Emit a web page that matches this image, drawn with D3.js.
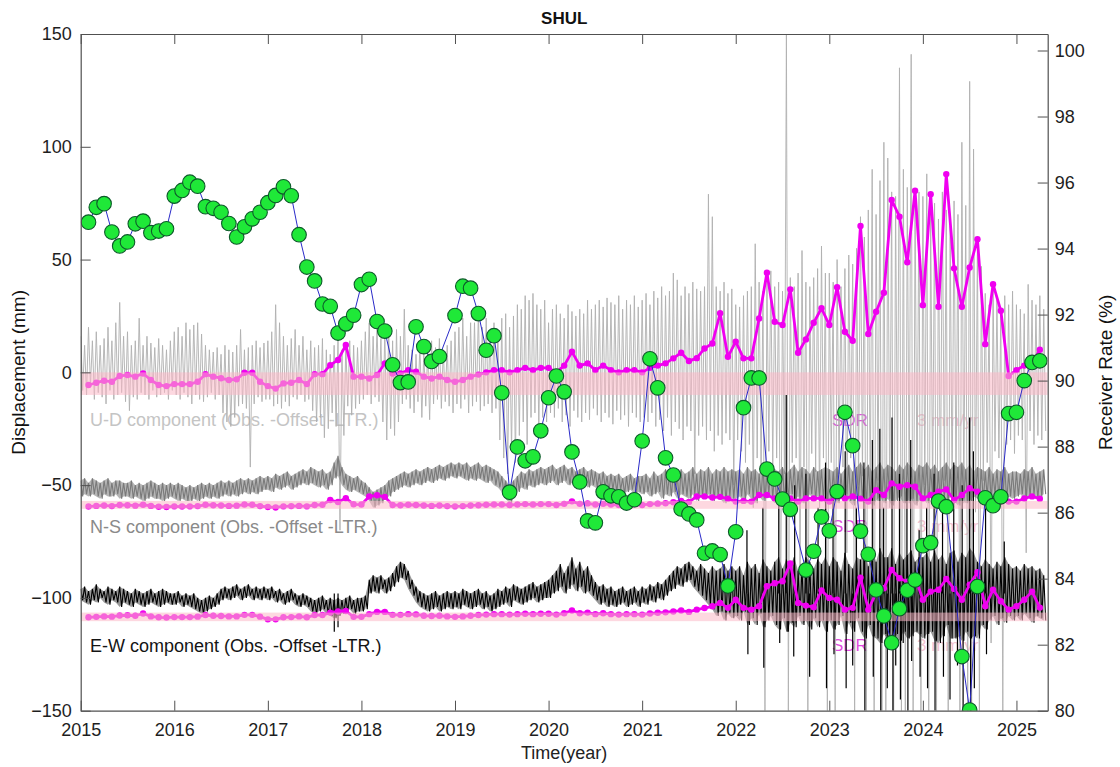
<!DOCTYPE html>
<html><head><meta charset="utf-8">
<script src="https://cdn.jsdelivr.net/npm/d3@7"></script>
<style>
body{margin:0;background:#fff;}
svg{display:block;font-family:"Liberation Sans",Arial,Helvetica,sans-serif;}
</style></head><body>
<svg id="chart" width="1120" height="767"></svg>
<script>
// ---- Station and axes ----
const stationName = "SHUL";
const yearTicks = [2015,2016,2017,2018,2019,2020,2021,2022,2023,2024,2025];
const dispTicks = [-150,-100,-50,0,50,100,150];
const rateTicks = [80,82,84,86,88,90,92,94,96,98,100];

// ---- Daily displacement envelopes, half-month samples from 2015.0 (mm) ----
const udHi = [16,12,20,14,18,12,15,20,14,22,31,16,18,12,14,24,12,16,13,11,15,12,10,14,
  18,20,16,22,19,21,22,17,12,10,9,11,8,12,10,9,12,19,10,11,12,14,11,13,
  14,18,30,22,16,12,15,19,12,16,10,14,11,12,15,10,8,12,15,10,12,14,12,11,
  14,18,22,16,20,15,18,20,14,19,16,28,12,10,8,12,9,10,14,11,15,10,12,14,
  18,20,24,16,22,22,27,20,24,19,22,18,24,26,20,25,30,28,34,32,35,30,28,32,
  22,28,30,26,24,30,27,25,28,26,32,28,30,32,29,33,31,30,34,28,32,30,34,29,
  32,35,30,36,33,38,34,36,44,41,34,38,35,40,37,36,38,79,69,38,36,40,35,37,
  30,29,34,36,38,57,40,36,42,45,38,40,36,150,42,38,44,54,40,38,42,46,56,44,
  44,40,50,38,46,52,48,55,69,60,72,90,70,85,102,95,80,78,135,90,82,141,75,80,
  78,88,70,75,68,80,72,65,76,70,102,74,129,99,60,47,35,30,38,32,28,34,30,36,
  30,28,26,39,32,30,34,28];
const udLo = [-8,-10,-6,-12,-9,-11,-14,-8,-12,-10,-9,-13,-17,-11,-12,-9,-10,-12,-8,-11,-10,-9,-12,-8,
  -10,-12,-9,-11,-14,-10,-12,-13,-11,-9,-12,-10,-18,-22,-24,-20,-15,-14,-16,-42,-14,-11,-13,-12,
  -12,-15,-14,-16,-13,-15,-11,-12,-10,-13,-12,-17,-22,-20,-29,-25,-18,-24,-70,-28,-15,-19,-16,-14,
  -12,-10,-14,-11,-13,-22,-30,-25,-28,-22,-14,-12,-16,-18,-13,-20,-15,-21,-14,-12,-16,-13,-15,-18,
  -14,-16,-12,-18,-15,-13,-17,-15,-14,-18,-16,-30,-38,-45,-35,-40,-28,-22,-32,-20,-18,-24,-20,-22,
  -18,-20,-16,-22,-19,-24,-17,-20,-22,-18,-21,-16,-19,-22,-18,-20,-23,-17,-21,-19,-24,-18,-20,-22,
  -20,-22,-18,-24,-21,-26,-20,-28,-22,-25,-30,-24,-26,-45,-28,-24,-30,-26,-35,-28,-32,-27,-30,-50,
  -30,-35,-40,-32,-60,-38,-45,-150,-35,-42,-38,-110,-45,-150,-40,-38,-90,-42,-150,-36,-44,-60,-38,-150,
  -40,-150,-45,-42,-80,-38,-150,-50,-46,-150,-55,-150,-48,-150,-150,-60,-150,-52,-150,-150,-58,-150,-54,-150,
  -50,-150,-56,-150,-60,-48,-150,-55,-52,-150,-58,-150,-150,-62,-150,-48,-40,-120,-35,-38,-150,-32,-30,-36,
  -28,-30,-80,-26,-32,-28,-30,-26];
const nsHi = [-48,-47,-49,-47,-48,-49,-48,-47,-49,-48,-48,-49,-49,-48,-50,-49,-50,-49,-48,-49,-50,-49,-50,-49,
  -50,-49,-50,-51,-50,-51,-50,-49,-50,-49,-50,-49,-48,-49,-48,-49,-48,-47,-48,-47,-48,-47,-46,-47,
  -46,-47,-45,-46,-45,-44,-46,-45,-44,-43,-44,-42,-43,-44,-43,-45,-44,-40,-37,-42,-45,-46,-47,-46,
  -48,-49,-51,-53,-52,-51,-50,-48,-47,-46,-45,-44,-45,-44,-43,-44,-43,-42,-43,-42,-41,-42,-41,-40,
  -41,-40,-41,-40,-42,-41,-40,-42,-41,-42,-43,-44,-46,-48,-50,-48,-46,-44,-45,-43,-44,-43,-42,-43,
  -42,-41,-43,-42,-41,-43,-42,-44,-43,-42,-44,-43,-44,-45,-44,-46,-45,-46,-45,-47,-46,-45,-47,-46,
  -46,-45,-47,-44,-46,-45,-43,-45,-44,-46,-43,-45,-44,-42,-45,-43,-44,-42,-45,-43,-44,-42,-44,-43,
  -44,-43,-45,-42,-44,-43,-45,-42,-44,-41,-43,-44,-42,-45,-43,-41,-44,-42,-43,-45,-42,-44,-43,-42,
  -43,-44,-42,-45,-43,-41,-44,-42,-40,-43,-41,-44,-42,-40,-43,-41,-42,-44,-41,-43,-40,-42,-44,-41,
  -42,-40,-43,-41,-44,-42,-40,-43,-41,-42,-40,-43,-41,-44,-42,-43,-44,-42,-45,-43,-44,-42,-45,-44,
  -44,-45,-43,-44,-42,-45,-44,-43];
const nsLo = [-55,-54,-55,-54,-55,-56,-54,-55,-55,-54,-56,-55,-55,-56,-55,-56,-57,-56,-55,-56,-56,-57,-56,-55,
  -56,-57,-56,-57,-57,-56,-57,-56,-55,-56,-55,-56,-55,-54,-55,-54,-55,-54,-53,-54,-53,-54,-53,-52,
  -52,-53,-51,-52,-51,-50,-52,-51,-50,-49,-50,-49,-50,-51,-50,-52,-50,-47,-46,-50,-52,-53,-52,-53,
  -54,-55,-57,-60,-59,-58,-56,-55,-53,-52,-51,-50,-51,-50,-49,-50,-49,-48,-49,-48,-47,-48,-47,-46,
  -47,-46,-47,-48,-47,-48,-47,-48,-49,-48,-50,-51,-53,-56,-58,-55,-53,-51,-52,-50,-51,-50,-49,-50,
  -49,-48,-50,-49,-48,-50,-49,-51,-50,-49,-51,-50,-51,-52,-51,-53,-52,-53,-52,-54,-53,-52,-54,-53,
  -54,-53,-55,-54,-53,-56,-54,-55,-53,-56,-54,-55,-56,-54,-57,-55,-56,-54,-57,-55,-56,-58,-55,-56,
  -56,-55,-57,-54,-56,-58,-55,-57,-54,-56,-58,-55,-57,-56,-54,-57,-55,-58,-56,-54,-57,-55,-56,-58,
  -57,-55,-58,-56,-54,-57,-59,-55,-57,-58,-56,-59,-57,-55,-58,-56,-59,-57,-55,-58,-57,-56,-59,-57,
  -56,-58,-55,-57,-59,-56,-58,-55,-57,-59,-56,-58,-57,-55,-56,-57,-55,-56,-54,-56,-55,-57,-55,-56,
  -55,-54,-56,-55,-54,-56,-55,-54];
const ewHi = [-96,-95,-97,-96,-94,-96,-97,-95,-96,-97,-95,-96,-97,-98,-96,-97,-98,-97,-96,-98,-97,-96,-97,-98,
  -98,-97,-99,-98,-99,-98,-100,-101,-100,-99,-100,-98,-96,-95,-96,-95,-94,-96,-95,-94,-96,-95,-96,-95,
  -96,-95,-97,-96,-98,-97,-96,-98,-99,-98,-99,-100,-101,-100,-99,-101,-100,-101,-100,-101,-100,-99,-101,-100,
  -100,-99,-92,-90,-91,-90,-92,-91,-89,-86,-84,-85,-88,-92,-95,-97,-98,-99,-98,-97,-99,-98,-97,-98,
  -97,-98,-96,-97,-98,-97,-96,-98,-97,-99,-98,-96,-97,-95,-96,-94,-95,-96,-95,-94,-93,-95,-94,-93,
  -92,-90,-88,-85,-89,-86,-82,-87,-84,-88,-86,-90,-93,-95,-94,-96,-95,-97,-96,-95,-97,-96,-95,-97,
  -95,-96,-94,-95,-93,-94,-92,-90,-88,-86,-87,-85,-84,-86,-88,-85,-87,-89,-86,-88,-87,-85,-88,-86,
  -88,-86,-90,-84,-87,-85,-89,-83,-86,-88,-84,-82,-87,-83,-85,-82,-88,-86,-82,-84,-87,-83,-85,-82,
  -86,-82,-84,-88,-80,-85,-87,-82,-83,-80,-86,-79,-84,-78,-82,-82,-78,-85,-80,-83,-81,-79,-84,-82,
  -82,-80,-84,-79,-83,-81,-85,-80,-79,-84,-80,-82,-78,-80,-84,-86,-83,-85,-87,-84,-86,-82,-85,-87,
  -86,-88,-85,-87,-86,-88,-87,-90];
const ewLo = [-101,-102,-103,-101,-102,-100,-102,-103,-101,-102,-104,-102,-103,-104,-102,-103,-104,-103,-102,-103,-104,-103,-102,-103,
  -103,-102,-104,-103,-104,-105,-106,-107,-106,-105,-104,-103,-101,-100,-101,-100,-99,-101,-100,-99,-101,-100,-101,-100,
  -101,-100,-102,-101,-103,-102,-101,-103,-104,-103,-104,-106,-107,-106,-105,-107,-108,-109,-108,-107,-106,-105,-107,-106,
  -106,-105,-98,-97,-98,-96,-98,-97,-95,-93,-91,-92,-96,-99,-102,-104,-105,-106,-105,-104,-106,-105,-104,-105,
  -104,-105,-103,-104,-105,-104,-103,-105,-104,-106,-105,-104,-103,-102,-104,-101,-102,-103,-102,-101,-100,-102,-101,-100,
  -100,-98,-97,-95,-98,-96,-94,-97,-95,-98,-97,-99,-101,-103,-102,-104,-103,-104,-103,-102,-104,-103,-102,-104,
  -102,-103,-101,-102,-100,-101,-99,-97,-96,-94,-95,-93,-92,-95,-97,-99,-101,-103,-105,-108,-106,-110,-107,-109,
  -108,-110,-106,-112,-109,-112,-107,-113,-110,-108,-112,-114,-109,-115,-111,-113,-108,-112,-110,-114,-109,-113,-110,-115,
  -110,-114,-112,-108,-116,-111,-115,-109,-115,-118,-112,-117,-118,-120,-116,-118,-120,-116,-119,-115,-118,-117,-115,-116,
  -118,-116,-115,-119,-120,-117,-112,-118,-118,-117,-119,-115,-118,-117,-118,-112,-114,-110,-108,-112,-109,-111,-108,-110,
  -108,-110,-107,-109,-111,-108,-109,-110];
// isolated E-W daily excursions [year, mm]
const ewSpikes = [[2017.71,-115],[2017.75,-113],
  [2022.12,-70],[2022.13,-125],[2022.29,-60],[2022.30,-131],[2022.46,-55],[2022.47,-120],[2022.54,-10],
  [2022.55,-115],[2022.63,-50],[2022.62,-126],[2022.75,-45],[2022.79,-135],[2022.88,-60],[2022.96,-40],
  [2022.97,-140],[2023.04,-50],[2023.05,-125],[2023.17,-35],[2023.18,-140],[2023.25,-130],[2023.29,-60],
  [2023.37,-40],[2023.38,-150],[2023.46,-30],[2023.47,-135],[2023.54,-25],[2023.55,-150],[2023.58,-60],
  [2023.62,-140],[2023.67,-20],[2023.68,-150],[2023.71,-130],[2023.75,-45],[2023.76,-145],[2023.79,-120],
  [2023.83,-50],[2023.84,-150],[2023.87,-30],[2023.88,-128],[2023.96,-70],[2023.97,-135],[2024.04,-60],
  [2024.05,-140],[2024.12,-45],[2024.13,-150],[2024.21,-55],[2024.22,-135],[2024.29,-145],[2024.33,-40],
  [2024.37,-130],[2024.42,-50],[2024.43,-150],[2024.50,-20],[2024.51,-150],[2024.54,-35],[2024.55,-140],
  [2024.67,-60],[2024.68,-125],[2024.87,-75]];

// ---- Monthly series, first sample at 2015 + 1/12 ----
// SDR curves drawn beside each component (mm on the left axis)
const sdrUD = [-5.6,-4.6,-3.7,-4.2,-1.6,-1.2,-1.9,-0.5,-3.4,-5.6,
  -6.1,-5.2,-5.2,-5.2,-4.2,-0.8,-1.9,-2.6,-3.4,-3.1,
  -0.2,-0.2,-4.2,-6.1,-7.2,-4.9,-4.6,-3.4,-5.2,-0.8,
  -0.8,3.2,5.5,12.1,-1.9,-1.9,-2.7,-1.2,4.0,-0.5,
  -0.5,1.0,0.3,-1.9,-2.7,-1.9,-3.4,-4.2,-3.4,-1.9,
  -1.0,0.0,1.0,1.0,0.0,1.0,2.0,1.0,2.0,2.0,
  0.0,3.0,9.1,3.0,4.0,1.0,3.0,1.0,0.0,1.0,
  1.0,0.0,2.0,3.0,4.0,6.2,8.7,5.0,6.3,10.6,
  12.8,26.2,6.9,13.6,6.2,6.2,23.9,44.2,22.4,21.0,
  36.8,8.7,14.6,22.0,28.4,21.0,37.7,18.0,14.0,64.9,
  17.0,26.9,35.3,76.4,69.0,48.8,80.5,29.8,79.0,29.1,
  87.9,46.1,29.1,46.5,59.0,12.5,39.1,27.3,-1.6,1.0,
  3.0,4.0,10.0];
const sdrNS = [-59.5,-59.2,-59.0,-59.3,-58.8,-58.9,-59.1,-58.7,-59.2,-59.6,
  -59.7,-59.4,-59.5,-59.4,-59.3,-58.7,-58.9,-59.0,-59.2,-59.1,
  -58.6,-58.7,-59.3,-59.7,-59.9,-59.4,-59.3,-59.2,-59.4,-58.8,
  -58.7,-56.6,-57.5,-55.8,-58.5,-58.6,-55.0,-54.5,-55.2,-58.8,
  -58.9,-58.7,-58.8,-59.0,-59.2,-59.0,-59.3,-59.4,-59.3,-59.0,
  -58.9,-58.7,-58.6,-58.6,-58.8,-58.6,-58.4,-58.6,-58.4,-58.4,
  -58.8,-58.3,-57.2,-58.3,-58.1,-58.6,-58.3,-58.6,-58.8,-58.6,
  -58.6,-58.8,-58.4,-58.2,-58.0,-57.6,-57.0,-57.5,-55.0,-55.0,
  -55.5,-55.2,-56.0,-57.3,-57.0,-57.3,-54.4,-54.4,-55.9,-54.4,
  -55.9,-57.3,-55.9,-55.9,-55.9,-57.3,-55.0,-55.9,-55.0,-56.0,
  -57.3,-52.2,-54.4,-49.2,-50.7,-50.0,-50.7,-55.9,-54.4,-52.9,
  -51.9,-56.6,-54.4,-51.4,-52.9,-56.6,-58.1,-57.3,-57.3,-57.3,
  -55.9,-55.0,-56.0];
const sdrEW = [-108.6,-108.4,-108.2,-108.3,-107.8,-107.7,-107.9,-106.9,-108.2,-108.6,
  -108.7,-108.5,-108.5,-108.5,-108.3,-107.6,-107.9,-108.0,-108.2,-108.2,
  -107.5,-107.5,-108.3,-109.5,-109.5,-108.6,-108.5,-108.2,-108.6,-107.6,
  -107.6,-106.5,-106.0,-105.8,-108.4,-108.4,-107.2,-106.2,-106.2,-107.5,
  -107.5,-107.2,-107.3,-107.9,-108.0,-107.9,-108.2,-108.4,-108.2,-107.9,
  -107.6,-107.4,-107.2,-107.2,-107.4,-107.2,-107.0,-107.2,-107.0,-107.0,
  -107.4,-106.8,-105.6,-106.8,-106.5,-107.2,-106.8,-107.2,-107.4,-107.2,
  -107.2,-107.4,-106.9,-106.6,-106.4,-106.0,-105.6,-106.2,-105.2,-104.5,
  -103.7,-102.2,-104.4,-100.8,-104.4,-105.2,-103.7,-94.8,-93.5,-92.6,
  -84.7,-102.2,-103.4,-104.1,-96.7,-100.0,-100.8,-105.2,-104.4,-91.0,
  -105.2,-97.9,-95.7,-87.6,-91.3,-92.8,-90.6,-100.8,-97.2,-96.4,
  -91.6,-96.0,-100.8,-94.1,-88.6,-103.7,-96.4,-101.5,-105.2,-103.7,
  -100.8,-97.2,-104.3];
// Receiver rate (%, right axis); null marks months without a value
const receiverRate = [94.80,95.25,95.36,94.50,94.08,94.20,94.75,94.83,94.48,94.53,
  94.60,95.59,95.76,96.01,95.89,95.27,95.22,95.10,94.76,94.35,
  94.66,94.90,95.10,95.39,95.61,95.87,95.60,94.42,93.44,93.02,
  92.32,92.25,91.44,91.72,91.98,92.91,93.07,91.79,91.50,90.48,
  89.94,89.96,91.63,91.03,90.58,90.73,null,91.97,92.86,92.80,
  92.03,90.92,91.36,89.63,86.62,87.99,87.57,87.69,88.48,89.48,
  90.14,89.66,87.84,86.93,85.75,85.69,86.63,86.51,86.48,86.29,
  86.39,88.17,90.66,89.78,87.66,87.14,86.11,85.96,85.78,84.77,
  84.84,84.73,83.78,85.42,89.18,90.08,90.08,87.32,87.02,86.41,
  86.10,null,84.26,84.83,85.87,85.45,86.64,89.04,88.03,85.44,
  84.74,83.66,82.87,82.06,83.09,83.65,83.96,85.00,85.09,86.35,
  86.18,null,81.64,80.02,83.76,86.45,86.21,86.48,89.00,89.04,
  90.00,90.55,90.60];

// Shaded 3 mm/yr ranges around each SDR baseline (mm)
const bandUD = [-10, 0];
const bandNS = [-60.5, -57];
const bandEW = [-110.3, -106.5];

// ---- Layout ----
const W = 1120, H = 767;
const P = {left: 80.7, right: 1047.7, top: 34, bottom: 710.7};
const FONT = '"Liberation Sans", Arial, Helvetica, sans-serif';

const x = d3.scaleLinear().domain([2015, 2025.334]).range([P.left, P.right]);
const yL = d3.scaleLinear().domain([-150, 150]).range([P.bottom, P.top]);
const yR = d3.scaleLinear().domain([80, 100.5]).range([P.bottom, P.top]);

const svg = d3.select('#chart');
svg.append('rect').attr('width', W).attr('height', H).attr('fill', '#fff');
svg.append('defs').append('clipPath').attr('id', 'plotClip')
  .append('rect').attr('x', P.left).attr('y', P.top)
  .attr('width', P.right - P.left).attr('height', P.bottom - P.top);

const g = svg.append('g').attr('clip-path', 'url(#plotClip)');

// in-plot annotation texts sit beneath the data
const rows = [
  {name: 'U-D component (Obs. -Offset -LTR.)', y: -21.2, color: '#c4c4c4'},
  {name: 'N-S component (Obs. -Offset -LTR.)', y: -68.3, color: '#8a8a8a'},
  {name: 'E-W component (Obs. -Offset -LTR.)', y: -121, color: '#141414'}
];
rows.forEach(r => {
  g.append('text').attr('x', 90).attr('y', yL(r.y)).attr('dy', '0.35em')
    .attr('font-size', 18).attr('fill', r.color).text(r.name);
  g.append('text').attr('x', 832).attr('y', yL(r.y)).attr('dy', '0.35em')
    .attr('font-size', 17).attr('fill', '#e24be0').text('SDR');
  g.append('text').attr('x', 917).attr('y', yL(r.y)).attr('dy', '0.35em')
    .attr('font-size', 17).attr('fill', '#f4c4d2').text('3 mm/yr');
});

// daily series drawn as alternating high/low samples
const halfMonth = i => 2015 + i / 24;
function envelope(hi, lo) {
  const pts = [];
  hi.forEach((h, i) => {
    pts.push([halfMonth(i), h]);
    pts.push([halfMonth(i) + 1 / 48, lo[i]]);
  });
  return pts;
}
const lineL = d3.line().x(d => x(d[0])).y(d => yL(d[1]));
const bandArea = d3.area().x((d, i) => x(halfMonth(i))).y0(d => yL(d[0])).y1(d => yL(d[1]));

// U-D: light grey trace
g.append('path').datum(envelope(udHi, udLo)).attr('d', lineL)
  .attr('fill', 'none').attr('stroke', '#b0b0b0').attr('stroke-width', 0.9).attr('stroke-linejoin', 'bevel');
// N-S: filled spread plus trace
g.append('path').datum(nsHi.map((h, i) => [nsLo[i], h])).attr('d', bandArea)
  .attr('fill', '#7a7a7a').attr('opacity', 0.55);
g.append('path').datum(envelope(nsHi, nsLo)).attr('d', lineL)
  .attr('fill', 'none').attr('stroke', '#7a7a7a').attr('stroke-width', 1.1).attr('stroke-linejoin', 'bevel');
// E-W: filled spread, trace and isolated excursions
g.append('path').datum(ewHi.map((h, i) => [ewLo[i], h])).attr('d', bandArea)
  .attr('fill', '#000').attr('opacity', 0.4);
g.append('path').datum(envelope(ewHi, ewLo)).attr('d', lineL)
  .attr('fill', 'none').attr('stroke', '#000').attr('stroke-width', 1.1).attr('stroke-linejoin', 'bevel');
g.selectAll(null).data(ewSpikes).enter().append('line')
  .attr('x1', d => x(d[0])).attr('x2', d => x(d[0]))
  .attr('y1', d => yL(d[1])).attr('y2', yL(-98))
  .attr('stroke', '#000').attr('stroke-width', 1.2);

// monthly SDR curves
const monthT = i => 2015 + (i + 1) / 12;
[sdrUD, sdrNS, sdrEW].forEach(arr => {
  const pts = arr.map((v, i) => [monthT(i), v]);
  g.append('path').datum(pts).attr('d', lineL)
    .attr('fill', 'none').attr('stroke', '#f000f0').attr('stroke-width', 2.8).attr('stroke-linejoin', 'round');
  g.selectAll(null).data(pts).enter().append('circle')
    .attr('cx', d => x(d[0])).attr('cy', d => yL(d[1])).attr('r', 3.2).attr('fill', '#f000f0');
});

// translucent 3 mm/yr bands
[bandUD, bandNS, bandEW].forEach(b => {
  g.append('rect').attr('x', P.left).attr('width', P.right - P.left)
    .attr('y', yL(b[1])).attr('height', yL(b[0]) - yL(b[1]))
    .attr('fill', '#fbb8c6').attr('opacity', 0.55);
});

// receiver rate on the right axis
const ratePts = receiverRate.map((v, i) => [monthT(i), v]).filter(d => d[1] !== null);
g.append('path').datum(ratePts)
  .attr('d', d3.line().x(d => x(d[0])).y(d => yR(d[1])))
  .attr('fill', 'none').attr('stroke', '#2a2ac8').attr('stroke-width', 1);
g.selectAll(null).data(ratePts).enter().append('circle')
  .attr('cx', d => x(d[0])).attr('cy', d => yR(d[1])).attr('r', 7.3)
  .attr('fill', '#1fe838').attr('stroke', '#0d5a2a').attr('stroke-width', 1.1);

// ---- Axes ----
const axisColor = '#505050';
function styleAxis(sel) {
  sel.select('.domain').attr('stroke', axisColor).attr('stroke-width', 1.2);
  sel.selectAll('.tick line').attr('stroke', axisColor).attr('stroke-width', 1);
  sel.selectAll('.tick text').attr('fill', '#1e1e1e').attr('font-size', 18).attr('font-family', FONT);
}
svg.append('g').attr('transform', `translate(0,${P.bottom})`)
  .call(d3.axisBottom(x).tickValues(yearTicks).tickFormat(d3.format('d')).tickSizeInner(-10).tickSizeOuter(0).tickPadding(13))
  .call(styleAxis);
svg.append('g').attr('transform', `translate(0,${P.top})`)
  .call(d3.axisTop(x).tickValues(yearTicks).tickFormat('').tickSizeInner(-10).tickSizeOuter(0))
  .call(styleAxis);
svg.append('g').attr('transform', `translate(${P.left},0)`)
  .call(d3.axisLeft(yL).tickValues(dispTicks).tickFormat(d3.format('d')).tickSizeInner(-10).tickSizeOuter(0).tickPadding(9))
  .call(styleAxis);
svg.append('g').attr('transform', `translate(${P.right},0)`)
  .call(d3.axisRight(yR).tickValues(rateTicks).tickFormat(d3.format('d')).tickSizeInner(-10).tickSizeOuter(0).tickPadding(7))
  .call(styleAxis);

// ---- Titles ----
svg.append('text').attr('x', (P.left + P.right) / 2).attr('y', 24)
  .attr('text-anchor', 'middle').attr('font-size', 17).attr('font-weight', 'bold')
  .attr('fill', '#111').text(stationName);
svg.append('text').attr('x', (P.left + P.right) / 2).attr('y', 759)
  .attr('text-anchor', 'middle').attr('font-size', 18).attr('fill', '#222').text('Time(year)');
svg.append('text').attr('transform', `translate(25,${(P.top + P.bottom) / 2}) rotate(-90)`)
  .attr('text-anchor', 'middle').attr('font-size', 19).attr('fill', '#111').text('Displacement (mm)');
svg.append('text').attr('transform', `translate(1112,${(P.top + P.bottom) / 2}) rotate(-90)`)
  .attr('text-anchor', 'middle').attr('font-size', 19).attr('fill', '#111').text('Receiver Rate (%)');
</script></body></html>
